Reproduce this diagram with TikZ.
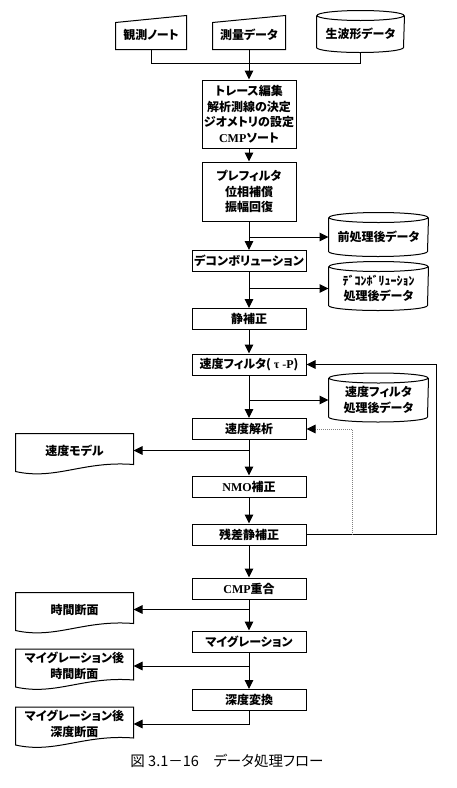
\documentclass[tikz,border=0pt]{standalone}
\usepackage{fontspec}
\setmainfont{Liberation Serif}
\newfontfamily\jp{Noto Sans CJK JP}[RawFeature=+palt]
\newcommand\lat{\rmfamily}
\usetikzlibrary{arrows.meta}
\usetikzlibrary{calc}

\begin{document}
\begin{tikzpicture}[x=1pt, y=-1pt, line width=1pt,
	txt/.style={inner sep=0pt, align=center, font=\jp\bfseries\fontsize{12}{15.5}\selectfont},
	proc/.style={txt, draw, minimum width=114pt, minimum height=21pt},
	store/.style={txt, minimum width=99pt, minimum height=43pt},
	report/.style={txt, minimum width=117pt, minimum height=33pt},
	manual/.style={txt, minimum height=28pt},
	flow/.style={-{Triangle[length=9pt, width=8.5pt]}},
	loop/.style={-{Triangle[length=9pt, width=8.5pt, color=black]}, densely dotted, draw=gray}]
\useasboundingbox (0,0) rectangle (457,788);

\newcommand\drawManual[1]{\draw ($(#1.north west)+(0pt,-2pt)$) -- ($(#1.north east)+(0pt,5pt)$) -- (#1.south east) -- (#1.south west) -- cycle}
\newcommand\drawStore[2]{\draw (#1.north west) -- ($(#1.south west)+(0pt,5pt)$) arc[start angle=180, end angle=360, x radius=#2pt, y radius=5pt] -- (#1.north east) (#1.north) ellipse[x radius=#2pt, y radius=5pt]}
\newcommand\drawReport[1]{\draw (#1.north west) -- (#1.north east) -- ($(#1.south east)+(0pt,3pt)$) .. controls +(-50pt,4pt) and +(40pt,-9pt) .. ($(#1.south west)+(0pt,-4pt)$) -- cycle}

\node[manual, minimum width=70pt] (note) at (151,35) {観測ノート};
\node[manual, minimum width=72pt] (survey) at (249,35) {測量データ};
\node[store, minimum width=87pt, minimum height=36pt] (raw) at (360.5,34) {生波形データ};
\node[proc, minimum width=94pt, minimum height=68pt] (edit) at (249,114) {トレース編集\\解析測線の決定\\ジオメトリの設定\\{\lat CMP}ソート};
\node[proc, minimum width=94pt, minimum height=59pt] (pre) at (249,191.5) {プレフィルタ\\位相補償\\振幅回復};
\node[store, minimum height=38pt] (preout) at (378.5,237) {前処理後データ};
\node[proc] (decon) at (249,261) {デコンボリューション};
\node[store] (deconout) at (378.5,288.5) {ﾃﾞｺﾝﾎﾞﾘｭｰｼｮﾝ\\処理後データ};
\node[proc] (static) at (249,319) {静補正};
\node[proc] (vfilt) at (249,364.5) {速度フィルタ( {\lat τ -P})};
\node[store] (vfiltout) at (378.5,400) {速度フィルタ\\処理後データ};
\node[proc] (vana) at (249,429) {速度解析};
\node[report] (vmodel) at (74.5,450.5) {速度モデル};
\node[proc] (nmo) at (249,486.5) {{\lat NMO}補正};
\node[proc] (resid) at (249,534.5) {残差静補正};
\node[proc] (stack) at (249,588.5) {{\lat CMP}重合};
\node[report] (tsec) at (74.5,609.5) {時間断面};
\node[proc] (mig) at (249,641.5) {マイグレーション};
\node[report] (migt) at (74.5,666) {マイグレーション後\\時間断面};
\node[proc] (depth) at (249,700) {深度変換};
\node[report] (migd) at (74.5,724) {マイグレーション後\\深度断面};
\node[font=\jp\fontsize{14.5}{16}\selectfont] (caption) at (227,761) {図 3.1－16　データ処理フロー};

\drawManual{note};
\drawManual{survey};
\drawStore{raw}{43.5};
\foreach \s in {preout,deconout,vfiltout} {\drawStore{\s}{49.5};}
\foreach \d in {vmodel,tsec,migt,migd} {\drawReport{\d};}

\coordinate (merge) at ($(survey.south)+(0,14)$);
\draw (note.south) |- (merge) -| (raw.south);
\draw[flow] (survey) -- (edit);
\draw[flow] (edit) -- (pre);
\draw[flow] (pre) -- (decon);
\draw[flow] (pre.south |- preout.west) -- (preout.west);
\draw[flow] (decon) -- (static);
\draw[flow] (decon.south |- deconout.west) -- (deconout.west);
\draw[flow] (static) -- (vfilt);
\draw[flow] (vfilt) -- (vana);
\draw[flow] (vfilt.south |- vfiltout.west) -- (vfiltout.west);
\draw[flow] (vana) -- (nmo);
\draw[flow] (vana.south |- vmodel.east) -- (vmodel.east);
\draw[flow] (nmo) -- (resid);
\draw[flow] (resid) -- (stack);
\coordinate (back) at (436,534.5);
\coordinate (tap) at (352,534.5);
\draw[flow] (resid.east) -- (back) |- (vfilt.east);
\draw[loop] (tap) |- (vana.east);
\draw[flow] (stack) -- (mig);
\draw[flow] (stack.south |- tsec.east) -- (tsec.east);
\draw[flow] (mig) -- (depth);
\draw[flow] (mig.south |- migt.east) -- (migt.east);
\draw[flow] (depth.south) |- (migd.east);
\end{tikzpicture}
\end{document}
